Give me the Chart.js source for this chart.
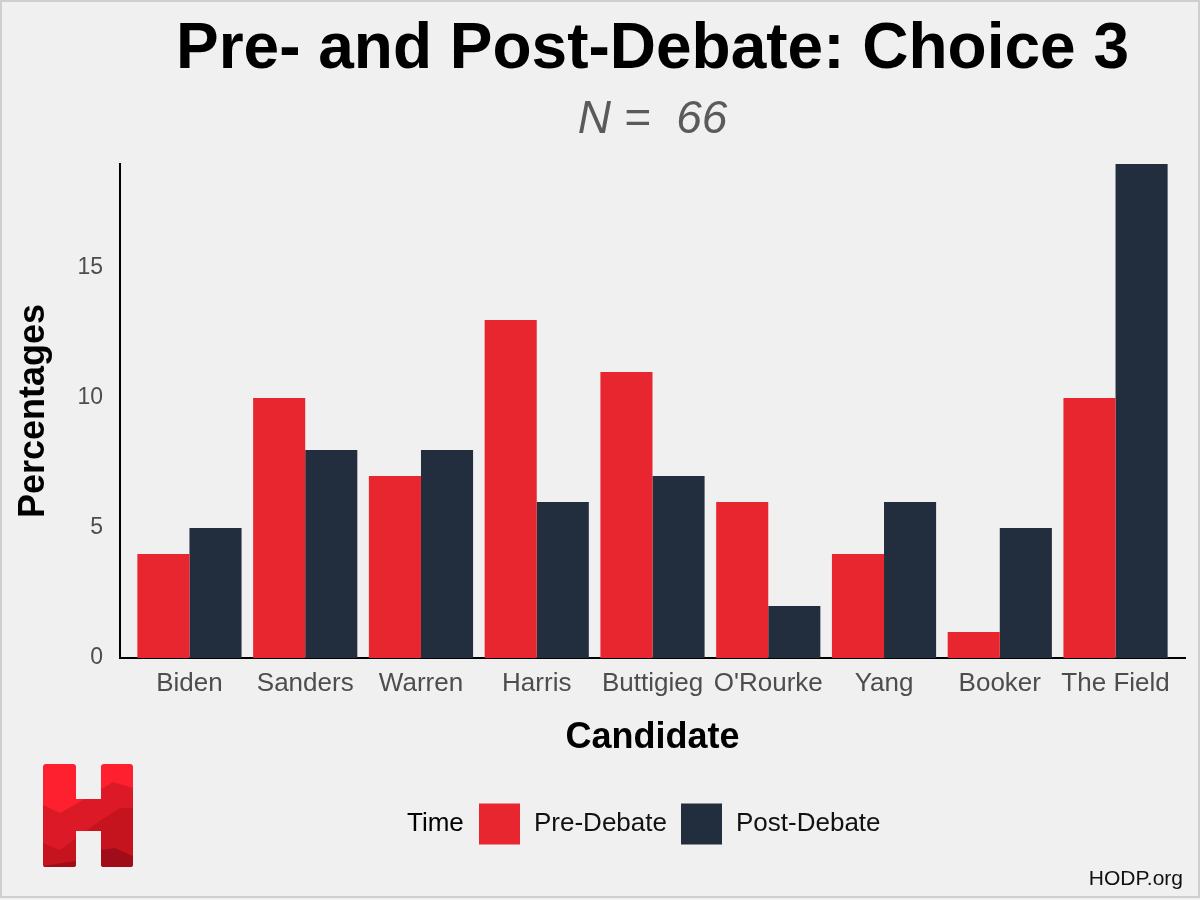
<!DOCTYPE html>
<html>
<head>
<meta charset="utf-8">
<script src="https://cdn.jsdelivr.net/npm/chart.js@4/dist/chart.umd.min.js"></script>
<style>
  html, body { margin: 0; padding: 0; background: #F0F0F0; }
  #wrap { position: relative; width: 1200px; height: 900px; }
  canvas { position: absolute; left: 0; top: 0; }
  #logo { position: absolute; left: 0; top: 0; }
</style>
</head>
<body>
<div id="wrap">
  <canvas id="c" width="1200" height="900"></canvas>
  <svg id="logo" width="1200" height="900" viewBox="0 0 1200 900">
    <defs>
      <clipPath id="hclip">
        <rect x="43" y="764" width="33" height="103" rx="3"/>
        <rect x="101" y="764" width="32" height="103" rx="3"/>
        <rect x="74" y="799" width="29" height="32"/>
      </clipPath>
    </defs>
    <g clip-path="url(#hclip)">
      <rect x="40" y="760" width="100" height="112" fill="#FF202F"/>
      <polygon points="43,805 60,813 100,790 113,782 133,788 133,870 43,870" fill="#DC1A27"/>
      <polygon points="43,843 60,850 101,820 120,808 133,808 133,870 43,870" fill="#C6141F"/>
      <polygon points="43,866 76,861 101,850 115,848 133,856 133,870 43,870" fill="#A00D19"/>
    </g>
  </svg>
</div>
<script>
const categories = ["Biden", "Sanders", "Warren", "Harris", "Buttigieg", "O'Rourke", "Yang", "Booker", "The Field"];
const preDebate  = [4, 10, 7, 13, 11, 6, 4, 1, 10];
const postDebate = [5, 8, 8, 6, 7, 2, 6, 5, 19];
const yTicks = [0, 5, 10, 15];
const seriesNames = ["Pre-Debate", "Post-Debate"];
const seriesColors = ["#E8262F", "#222E3D"];
const titleText = "Pre- and Post-Debate: Choice 3";
const subtitleText = "N =  66";
const legendTitle = "Time";
const sourceText = "HODP.org";

const FONT = "'Liberation Sans', Arial, Helvetica, sans-serif";

const decorPlugin = {
  id: 'decor',
  beforeDraw(chart) {
    const ctx = chart.ctx;
    ctx.save();
    ctx.fillStyle = '#F0F0F0';
    ctx.fillRect(0, 0, chart.width, chart.height);
    ctx.restore();
  },
  afterDraw(chart) {
    const ctx = chart.ctx;
    const ca = chart.chartArea;
    const cx = (ca.left + ca.right) / 2;
    ctx.save();
    // title
    ctx.fillStyle = '#000000';
    ctx.textAlign = 'center';
    ctx.textBaseline = 'alphabetic';
    ctx.font = "bold 64px " + FONT;
    ctx.fillText(titleText, cx, 68);
    // subtitle
    ctx.fillStyle = '#5A5A5A';
    ctx.font = "italic 46px " + FONT;
    ctx.fillText(subtitleText, cx, 133);
    // legend
    const ly = 824;
    ctx.font = "26px " + FONT;
    ctx.textBaseline = 'middle';
    ctx.textAlign = 'left';
    ctx.fillStyle = '#000000';
    ctx.fillText(legendTitle, 407, ly);
    const boxX = [479, 681];
    chart.data.datasets.forEach((ds, i) => {
      ctx.fillStyle = ds.backgroundColor;
      ctx.fillRect(boxX[i], ly - 20.5, 41, 41);
      ctx.fillStyle = '#111111';
      ctx.fillText(ds.label, boxX[i] + 55, ly);
    });
    // source
    ctx.textAlign = 'right';
    ctx.textBaseline = 'alphabetic';
    ctx.font = "21px " + FONT;
    ctx.fillStyle = '#111111';
    ctx.fillText(sourceText, 1183, 885);
    // frame
    ctx.strokeStyle = '#CFCFCF';
    ctx.lineWidth = 2;
    ctx.strokeRect(1, 1, 1198, 896);
    ctx.restore();
  }
};

const toPoints = (arr) => arr.map((v, i) => ({ x: i + 1, y: v }));

new Chart(document.getElementById('c'), {
  type: 'bar',
  data: {
    datasets: [
      { label: seriesNames[0], data: toPoints(preDebate), backgroundColor: seriesColors[0], borderWidth: 0 },
      { label: seriesNames[1], data: toPoints(postDebate), backgroundColor: seriesColors[1], borderWidth: 0 }
    ]
  },
  options: {
    responsive: false,
    animation: false,
    devicePixelRatio: 1,
    categoryPercentage: 0.9,
    barPercentage: 1.0,
    layout: { padding: { top: 164, right: 15, bottom: 140, left: 0 } },
    plugins: {
      legend: { display: false },
      title: { display: false },
      tooltip: { enabled: false }
    },
    scales: {
      x: {
        type: 'linear',
        offset: false,
        min: 0.4,
        max: 9.6,
        grid: { display: false, drawTicks: false, offset: false },
        border: { display: true, color: '#000000', width: 2 },
        afterBuildTicks: (scale) => { scale.ticks = categories.map((c, i) => ({ value: i + 1 })); },
        afterFit: (scale) => { scale.height = 102; },
        ticks: {
          autoSkip: false,
          maxRotation: 0,
          padding: 10,
          color: '#4D4D4D',
          font: { family: FONT, size: 26 },
          callback: (v) => categories[Math.round(v) - 1]
        },
        title: {
          display: true,
          text: 'Candidate',
          color: '#000000',
          font: { family: FONT, size: 36, weight: 'bold' },
          padding: { top: 0, bottom: 0 }
        }
      },
      y: {
        min: 0,
        max: 19,
        grid: { display: false, drawTicks: false },
        border: { display: true, color: '#000000', width: 2 },
        afterBuildTicks: (scale) => { scale.ticks = yTicks.map(v => ({ value: v })); },
        afterFit: (scale) => { scale.width = 120; },
        ticks: {
          padding: 17,
          color: '#4D4D4D',
          font: { family: FONT, size: 23 }
        },
        title: {
          display: true,
          text: 'Percentages',
          color: '#000000',
          font: { family: FONT, size: 36, weight: 'bold' },
          padding: { top: 12, bottom: 0 }
        }
      }
    }
  },
  plugins: [decorPlugin]
});
</script>
</body>
</html>
